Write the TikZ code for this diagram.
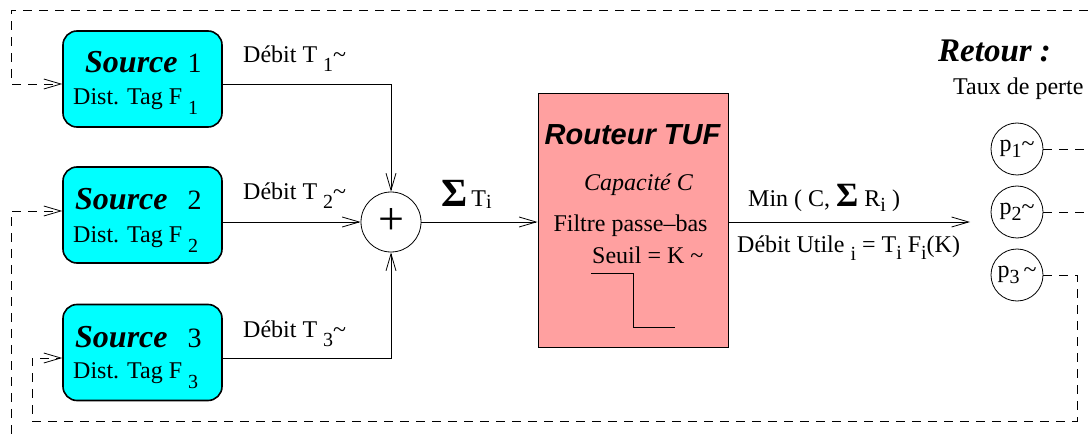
\documentclass[tikz,border=0pt]{standalone}
\usepackage{fontspec}
\setmainfont{Liberation Serif}
\setsansfont{Liberation Sans}
\usetikzlibrary{arrows.meta}
\definecolor{sourcecyan}{RGB}{0,255,255}
\definecolor{routeurrose}{RGB}{255,160,160}
\newcommand{\dn}[2][9pt]{\raisebox{-#1}{\fontsize{20}{20}\selectfont #2}}
\newcommand{\srcname}[1]{{\fontsize{32}{32}\selectfont\bfseries\itshape #1}}
\newcommand{\srcnum}[1]{{\fontsize{28}{28}\selectfont #1}}
\tikzset{
	srcbox/.style={draw, line width=1.6pt, rounded corners=14pt, fill=sourcecyan,
		minimum width=159pt, minimum height=96pt},
	routeur/.style={draw, line width=1pt, fill=routeurrose,
		minimum width=190pt, minimum height=253pt},
	flow/.style={line width=0.8pt, -{Straight Barb[length=17pt,width=10pt]}},
	retour/.style={flow, dash pattern=on 9pt off 7pt},
	pnode/.style={draw, circle, line width=0.8pt, minimum size=52pt, inner sep=0pt},
	lbl/.style={anchor=base west, inner sep=0pt},
}
\begin{document}
\begin{tikzpicture}[x=1pt, y=-1pt, font=\fontsize{24}{28}\selectfont]
			\useasboundingbox (0,0) rectangle (1088,441);
			
			% sources
			\node[srcbox] (src1) at (142.5,79) {};
			\node[srcbox] (src2) at (142.5,215) {};
			\node[srcbox] (src3) at (142.5,352.5) {};
			\node[lbl] (n1) at (85,73) {\srcname{Source}\hspace{4pt} \srcnum{1}};
			\node[lbl] (n2) at (75,210) {\srcname{Source}\hspace{14pt} \srcnum{2}};
			\node[lbl] (n3) at (75,347) {\srcname{Source}\hspace{14pt} \srcnum{3}};
			\node[lbl] (f1) at (73,105) {Dist. Tag F \dn[10pt]{1}};
			\node[lbl] (f2) at (73,242) {Dist. Tag F \dn[10pt]{2}};
			\node[lbl] (f3) at (73,378) {Dist. Tag F \dn[10pt]{3}};
			\node[lbl] (d1) at (243,63) {Débit T \dn{1}\textasciitilde};
			\node[lbl] (d2) at (243,200) {Débit T \dn{2}\textasciitilde};
			\node[lbl] (d3) at (243,337) {Débit T \dn{3}\textasciitilde};
			
			% sommateur
			\node[draw, circle, line width=0.8pt, minimum size=60pt, inner sep=0pt] (plus) at (391,222) {\fontsize{46}{46}\selectfont +};
			\node[lbl] (sig) at (441,207) {{\fontsize{40}{40}\selectfont\textbf{Σ}}\,T\dn[2pt]{i}};
			
			% routeur
			\node[routeur] (router) at (633,220.5) {};
			\node[anchor=base] (rt) at (632.5,145) {\fontsize{29}{29}\selectfont\sffamily\bfseries\itshape Routeur TUF};
			\node[anchor=base] (rc) at (638.5,190) {\itshape Capacité C};
			\node[anchor=base] (rf) at (630.5,232) {Filtre passe–bas};
			\node[lbl] (rs) at (592,263) {Seuil = K \textasciitilde};
			\draw[line width=0.8pt] (591,273) -- (633,273) -- (633,327) -- (675,327);
			
			\coordinate (outend) at (970,222);
			\node[lbl] (mn) at (748,207) {Min ( C, {\fontsize{34}{34}\selectfont\textbf{Σ}} R\dn[5pt]{i} )};
			\node[lbl] (du) at (737,252) {Débit Utile \dn[9pt]{i} = T\dn[7pt]{i} F\dn[7pt]{i}(K)};
			
			% retour
			\node[lbl] (ret) at (938,62) {\fontsize{33}{33}\selectfont\bfseries\itshape Retour :};
			\node[lbl] (taux) at (953,95) {Taux de perte};
			\node[pnode] (p1) at (1017,149) {p\dn[6pt]{1}\textasciitilde};
			\node[pnode] (p2) at (1017,212) {p\dn[6pt]{2}\textasciitilde};
			\node[pnode] (p3) at (1017,275) {p\dn[6pt]{3}\,\textasciitilde};
			
			\coordinate (k1) at (1100,10);
			\coordinate (h1) at (11,10);
			\coordinate (k2) at (1110,460);
			\coordinate (h2) at (11,460);
			\coordinate (k3) at (1077,421);
			\coordinate (h3) at (32,421);
			
			\draw[flow] ([yshift=-5pt]src1.east) -| (plus.north);
			\draw[flow] (src2.east |- plus.west) -- (plus.west);
			\draw[flow] ([yshift=-5.5pt]src3.east) -| (plus.south);
			\draw[flow] (plus.east) -- (router.west |- plus.east);
			\draw[flow] (router.east |- plus.east) -- (outend);
			
			\draw[retour] (p1.east) -| (k1) -- (h1) |- ([yshift=-5pt]src1.west);
			\draw[retour] (p2.east) -| (k2) -- (h2) |- ([yshift=4pt]src2.west);
			\draw[retour] (p3.east) -| (k3) -- (h3) |- ([yshift=-5.5pt]src3.west);
		\end{tikzpicture}
\end{document}
